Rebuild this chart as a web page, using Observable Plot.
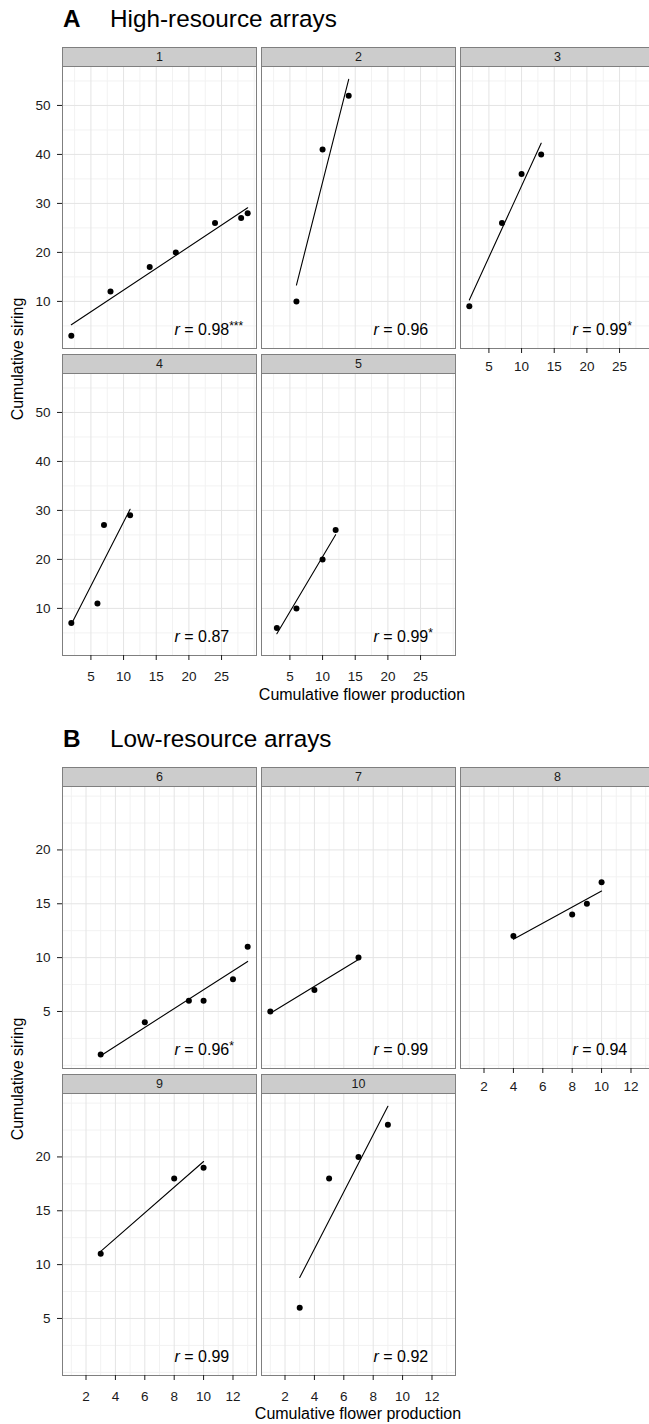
<!DOCTYPE html>
<html>
<head>
<meta charset="utf-8">
<script src="https://cdn.jsdelivr.net/npm/d3@7"></script>
<script src="https://cdn.jsdelivr.net/npm/@observablehq/plot@0.6"></script>
<style>
html,body{margin:0;padding:0;background:#fff;}
#fig{position:relative;width:649px;height:1424px;overflow:hidden;background:#fff;font-family:"Liberation Sans",Arial,Helvetica,sans-serif;color:#000;}
.strip{position:absolute;box-sizing:border-box;height:20px;background:#cccccc;border:1px solid #7f7f7f;font-size:12.5px;line-height:18px;text-align:center;color:#1a1a1a;}
.head{position:absolute;font-size:24.3px;line-height:24.3px;white-space:nowrap;}
.axtitle{position:absolute;font-size:16px;line-height:16px;white-space:nowrap;}
</style>
</head>
<body>
<div id="fig"></div>
<script>
// ---------- data ----------
const panelA = [1, 2, 3, 4, 5];
const panelB = [6, 7, 8, 9, 10];
const flowers1 = [2, 8, 14, 18, 24, 28, 29];
const siring1  = [3, 12, 17, 20, 26, 27, 28];
const flowers2 = [6, 10, 14];
const siring2  = [10, 41, 52];
const flowers3 = [2, 7, 10, 13];
const siring3  = [9, 26, 36, 40];
const flowers4 = [2, 6, 7, 11];
const siring4  = [7, 11, 27, 29];
const flowers5 = [3, 6, 10, 12];
const siring5  = [6, 10, 20, 26];
const flowers6 = [3, 6, 9, 10, 12, 13];
const siring6  = [1, 4, 6, 6, 8, 11];
const flowers7 = [1, 4, 7];
const siring7  = [5, 7, 10];
const flowers8 = [4, 8, 9, 10];
const siring8  = [12, 14, 15, 17];
const flowers9 = [3, 8, 10];
const siring9  = [11, 18, 19];
const flowers10 = [3, 5, 7, 9];
const siring10  = [6, 18, 20, 23];
const rValues = ["0.98***", "0.96", "0.99*", "0.87", "0.99*", "0.96*", "0.99", "0.94", "0.99", "0.92"];
const sectionLetters = ["A", "B"];
const sectionTitles = ["High-resource arrays", "Low-resource arrays"];
const xTitle = "Cumulative flower production";
const yTitle = "Cumulative siring";
const xTicksA = [5, 10, 15, 20, 25];
const xMinorA = [2.5, 7.5, 12.5, 17.5, 22.5, 27.5, 30];
const yTicksA = [10, 20, 30, 40, 50];
const yMinorA = [5, 15, 25, 35, 45, 55];
const xTicksB = [2, 4, 6, 8, 10, 12];
const xMinorB = [1, 3, 5, 7, 9, 11, 13];
const yTicksB = [5, 10, 15, 20];
const yMinorB = [0, 2.5, 7.5, 12.5, 17.5, 22.5, 25];

const flowers = [flowers1, flowers2, flowers3, flowers4, flowers5, flowers6, flowers7, flowers8, flowers9, flowers10];
const siring = [siring1, siring2, siring3, siring4, siring5, siring6, siring7, siring8, siring9, siring10];

// ---------- layout ----------
const fig = document.getElementById("fig");
const colLeft = [62, 261, 460];
const panelW = 194, panelH = 282, stripH = 19, rowGap = 6;
const tickFont = 13.5;
const sections = [
  {ids: panelA, stripTop: 47, xTicks: xTicksA, xMinor: xMinorA, yTicks: yTicksA, yMinor: yMinorA,
   headBase: 27.3, xTitleX: 362, xTitleY: 694.5, yTitleY: 359},
  {ids: panelB, stripTop: 767, xTicks: xTicksB, xMinor: xMinorB, yTicks: yTicksB, yMinor: yMinorB,
   headBase: 747.3, xTitleX: 358, xTitleY: 1413.8, yTitleY: 1079}
];

function fit(xs, ys) {
  const mx = d3.mean(xs), my = d3.mean(ys);
  let sxy = 0, sxx = 0;
  xs.forEach((x, k) => { sxy += (x - mx) * (ys[k] - my); sxx += (x - mx) ** 2; });
  const b = sxy / sxx;
  return [my - b * mx, b];
}
function expand([lo, hi]) { const d = (hi - lo) * 0.05; return [lo - d, hi + d]; }

function addDiv(cls, text, css) {
  const d = document.createElement("div");
  d.className = cls;
  d.textContent = text;
  Object.assign(d.style, css);
  fig.appendChild(d);
  return d;
}

const NS = "http://www.w3.org/2000/svg";
function styleLabel(t, val) {
  const m = val.match(/^([0-9.]+)(\**)$/);
  t.textContent = "";
  const r = document.createElementNS(NS, "tspan");
  r.setAttribute("font-style", "italic");
  r.textContent = "r";
  t.appendChild(r);
  t.appendChild(document.createTextNode(" = " + m[1]));
  if (m[2]) {
    const s = document.createElementNS(NS, "tspan");
    s.setAttribute("font-size", "12");
    s.setAttribute("dy", "-5");
    s.textContent = m[2];
    t.appendChild(s);
  }
}

sections.forEach((sec, si) => {
  // headers
  const fs = 24.3, top = sec.headBase - 0.8465 * fs;
  addDiv("head", sectionLetters[si], {left: "63px", top: top + "px", fontWeight: "bold"});
  addDiv("head", sectionTitles[si], {left: "110px", top: top + "px"});

  // shared domains (ggplot-like 5% expansion, including fitted lines)
  const allX = sec.ids.flatMap(id => flowers[id - 1]);
  const allY = [];
  sec.ids.forEach(id => {
    const xs = flowers[id - 1], ys = siring[id - 1];
    const [a, b] = fit(xs, ys);
    allY.push(...ys, a + b * d3.min(xs), a + b * d3.max(xs));
  });
  const xDom = expand(d3.extent(allX));
  const yDom = expand(d3.extent(allY));
  const inX = v => v >= xDom[0] && v <= xDom[1];
  const inY = v => v >= yDom[0] && v <= yDom[1];

  sec.ids.forEach((id, i) => {
    const col = i % 3, row = Math.floor(i / 3);
    const stripTop = sec.stripTop + row * (stripH + panelH + rowGap);
    const panelTop = stripTop + stripH;
    const hasY = col === 0;
    const hasX = row === 1 || col === 2;

    // strip
    addDiv("strip", String(id), {left: colLeft[col] + "px", top: stripTop + "px", width: (panelW + 1) + "px"});

    const xs = flowers[id - 1], ys = siring[id - 1];
    const data = xs.map((x, k) => ({x, y: ys[k]}));
    const mL = hasY ? 60 : 2, mR = 2, mT = 2, mB = hasX ? 34 : 2;
    const marks = [
      Plot.gridX(sec.xMinor.filter(inX), {stroke: "#f2f2f2", strokeOpacity: 1, strokeWidth: 1}),
      Plot.gridY(sec.yMinor.filter(inY), {stroke: "#f2f2f2", strokeOpacity: 1, strokeWidth: 1}),
      Plot.gridX(sec.xTicks, {stroke: "#e4e4e4", strokeOpacity: 1, strokeWidth: 1}),
      Plot.gridY(sec.yTicks, {stroke: "#e4e4e4", strokeOpacity: 1, strokeWidth: 1}),
      Plot.frame({stroke: "#7f7f7f", strokeWidth: 1}),
      Plot.linearRegressionY(data, {x: "x", y: "y", ci: 0, stroke: "#000", strokeWidth: 1.1}),
      Plot.dot(data, {x: "x", y: "y", r: 3, fill: "#000", stroke: "none"}),
      Plot.text([rValues[id - 1]], {text: d => d, frameAnchor: "bottom-left", textAnchor: "start",
        lineAnchor: "middle", dx: 112, dy: -19, fontSize: 16, fill: "#000"})
    ];
    if (hasY) marks.push(Plot.axisY(sec.yTicks, {anchor: "left", tickSize: 5, tickPadding: 7, label: null, color: "#1a1a1a", fontSize: tickFont}));
    if (hasX) marks.push(Plot.axisX(sec.xTicks, {anchor: "bottom", tickSize: 5, tickPadding: row === 0 ? 8.3 : 11, label: null, color: "#1a1a1a", fontSize: tickFont}));

    const svg = Plot.plot({
      width: panelW + mL + mR,
      height: panelH + mT + mB,
      marginLeft: mL, marginRight: mR, marginTop: mT, marginBottom: mB,
      x: {domain: xDom, axis: null},
      y: {domain: yDom, axis: null},
      style: {fontFamily: '"Liberation Sans", Arial, sans-serif', fontSize: tickFont + "px", background: "transparent", overflow: "visible", maxWidth: "none"},
      marks
    });
    svg.querySelectorAll('g[aria-label="text"] text').forEach(t => styleLabel(t, rValues[id - 1]));
    svg.querySelectorAll('g[aria-label$="tick label"]').forEach(g => {
      g.setAttribute("font-size", tickFont);
      g.querySelectorAll("text").forEach(t => { t.style.fontSize = tickFont + "px"; });
    });
    svg.style.position = "absolute";
    svg.style.left = (colLeft[col] - mL) + "px";
    svg.style.top = (panelTop - mT) + "px";
    fig.appendChild(svg);
  });

  // axis titles
  addDiv("axtitle", xTitle, {left: sec.xTitleX + "px", top: sec.xTitleY + "px", transform: "translate(-50%,-50%)"});
  addDiv("axtitle", yTitle, {left: "17.5px", top: sec.yTitleY + "px", transform: "translate(-50%,-50%) rotate(-90deg)"});
});
</script>
</body>
</html>
